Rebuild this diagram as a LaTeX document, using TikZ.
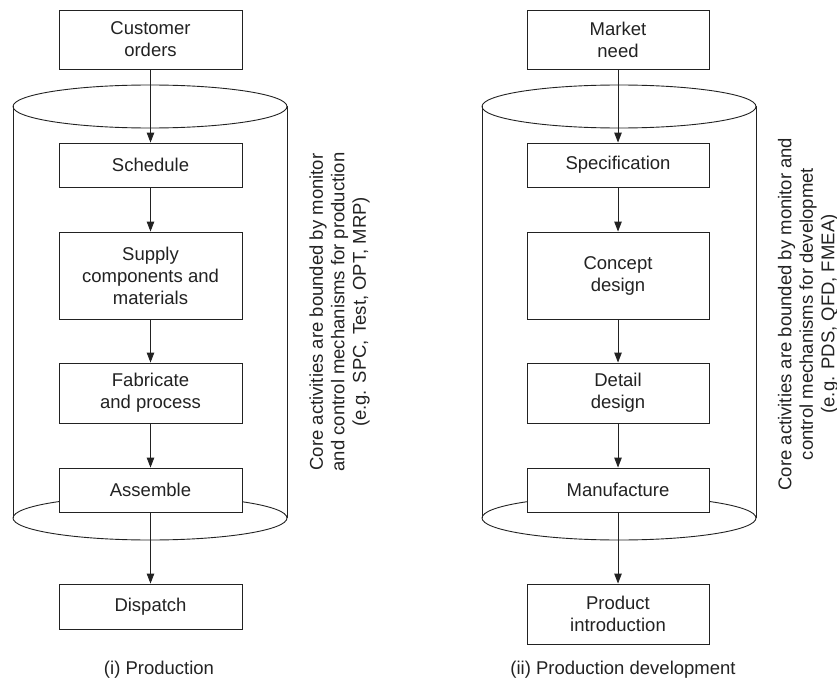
\documentclass[tikz,border=0pt]{standalone}
\usepackage{fontspec}
\setmainfont{Liberation Sans}
\usetikzlibrary{arrows.meta}
\definecolor{ink}{HTML}{222222}
\tikzset{
  box/.style={draw=ink, line width=0.9pt, fill=white, text=ink, align=center,
    inner sep=0pt, minimum width=183pt,
    font=\fontsize{18.5}{22}\selectfont},
  flow/.style={draw=ink, line width=0.9pt, -{Triangle[length=10pt,width=7.5pt]}},
  cyl/.style={draw=ink, line width=0.9pt},
  note/.style={rotate=90, align=center, text=ink, inner sep=0pt,
    font=\fontsize{18.5}{21.5}\selectfont},
  caption/.style={text=ink, inner sep=0pt, font=\fontsize{18.5}{22}\selectfont}
}
\begin{document}
\begin{tikzpicture}[x=1pt,y=-1pt]
\useasboundingbox (0,0) rectangle (837,682);
% cylinders
\draw[cyl] (150,106.5) ellipse [x radius=137, y radius=21.5];
\draw[cyl] (150,518) ellipse [x radius=137, y radius=22];
\draw[cyl] (13,106.5) -- (13,518);
\draw[cyl] (287,106.5) -- (287,518);
\draw[cyl] (619,106.5) ellipse [x radius=137, y radius=21.5];
\draw[cyl] (619,518) ellipse [x radius=137, y radius=22];
\draw[cyl] (482,106.5) -- (482,518);
\draw[cyl] (756,106.5) -- (756,518);
% left column
\node[box, minimum height=59pt] (co) at (150.5,39.5) {Customer\\orders};
\node[box, minimum height=44pt] (sc) at (150.5,165) {Schedule};
\node[box, minimum height=87pt] (su) at (150.5,275.5) {Supply\\components and\\materials};
\node[box, minimum height=60pt] (fa) at (150.5,393) {Fabricate\\and process};
\node[box, minimum height=44pt] (as) at (150.5,490) {Assemble};
\node[box, minimum height=45pt] (di) at (150.5,606.5) {Dispatch};
\draw[flow] (co) -- (sc);
\draw[flow] (sc) -- (su);
\draw[flow] (su) -- (fa);
\draw[flow] (fa) -- (as);
\draw[flow] (as) -- (di);
% right column
\node[box, minimum width=182pt, minimum height=59pt] (mn) at (618,39.5) {Market\\need};
\node[box, minimum width=182pt, minimum height=44pt] (sp) at (618,165) {Specification};
\node[box, minimum width=182pt, minimum height=87pt] (cd) at (618,275.5) {Concept\\design};
\node[box, minimum width=182pt, minimum height=60pt] (dd) at (618,393) {Detail\\design};
\node[box, minimum width=182pt, minimum height=44pt] (ma) at (618,490) {Manufacture};
\node[box, minimum width=182pt, minimum height=60pt] (pi) at (618,614) {Product\\introduction};
\draw[flow] (mn) -- (sp);
\draw[flow] (sp) -- (cd);
\draw[flow] (cd) -- (dd);
\draw[flow] (dd) -- (ma);
\draw[flow] (ma) -- (pi);
% notes
\node[note] (nl) at (339.5,312) {Core activities are bounded by monitor\\and control mechanisms for production\\(e.g. SPC, Test, OPT, MRP)};
\node[note] (nr) at (808,314) {Core activities are bounded by monitor and\\control mechanisms for developmet\\(e.g. PDS, QFD, FMEA)};
% captions
\node[caption] (c1) at (159,670) {(i) Production};
\node[caption] (c2) at (623,670) {(ii) Production development};
\end{tikzpicture}
\end{document}
